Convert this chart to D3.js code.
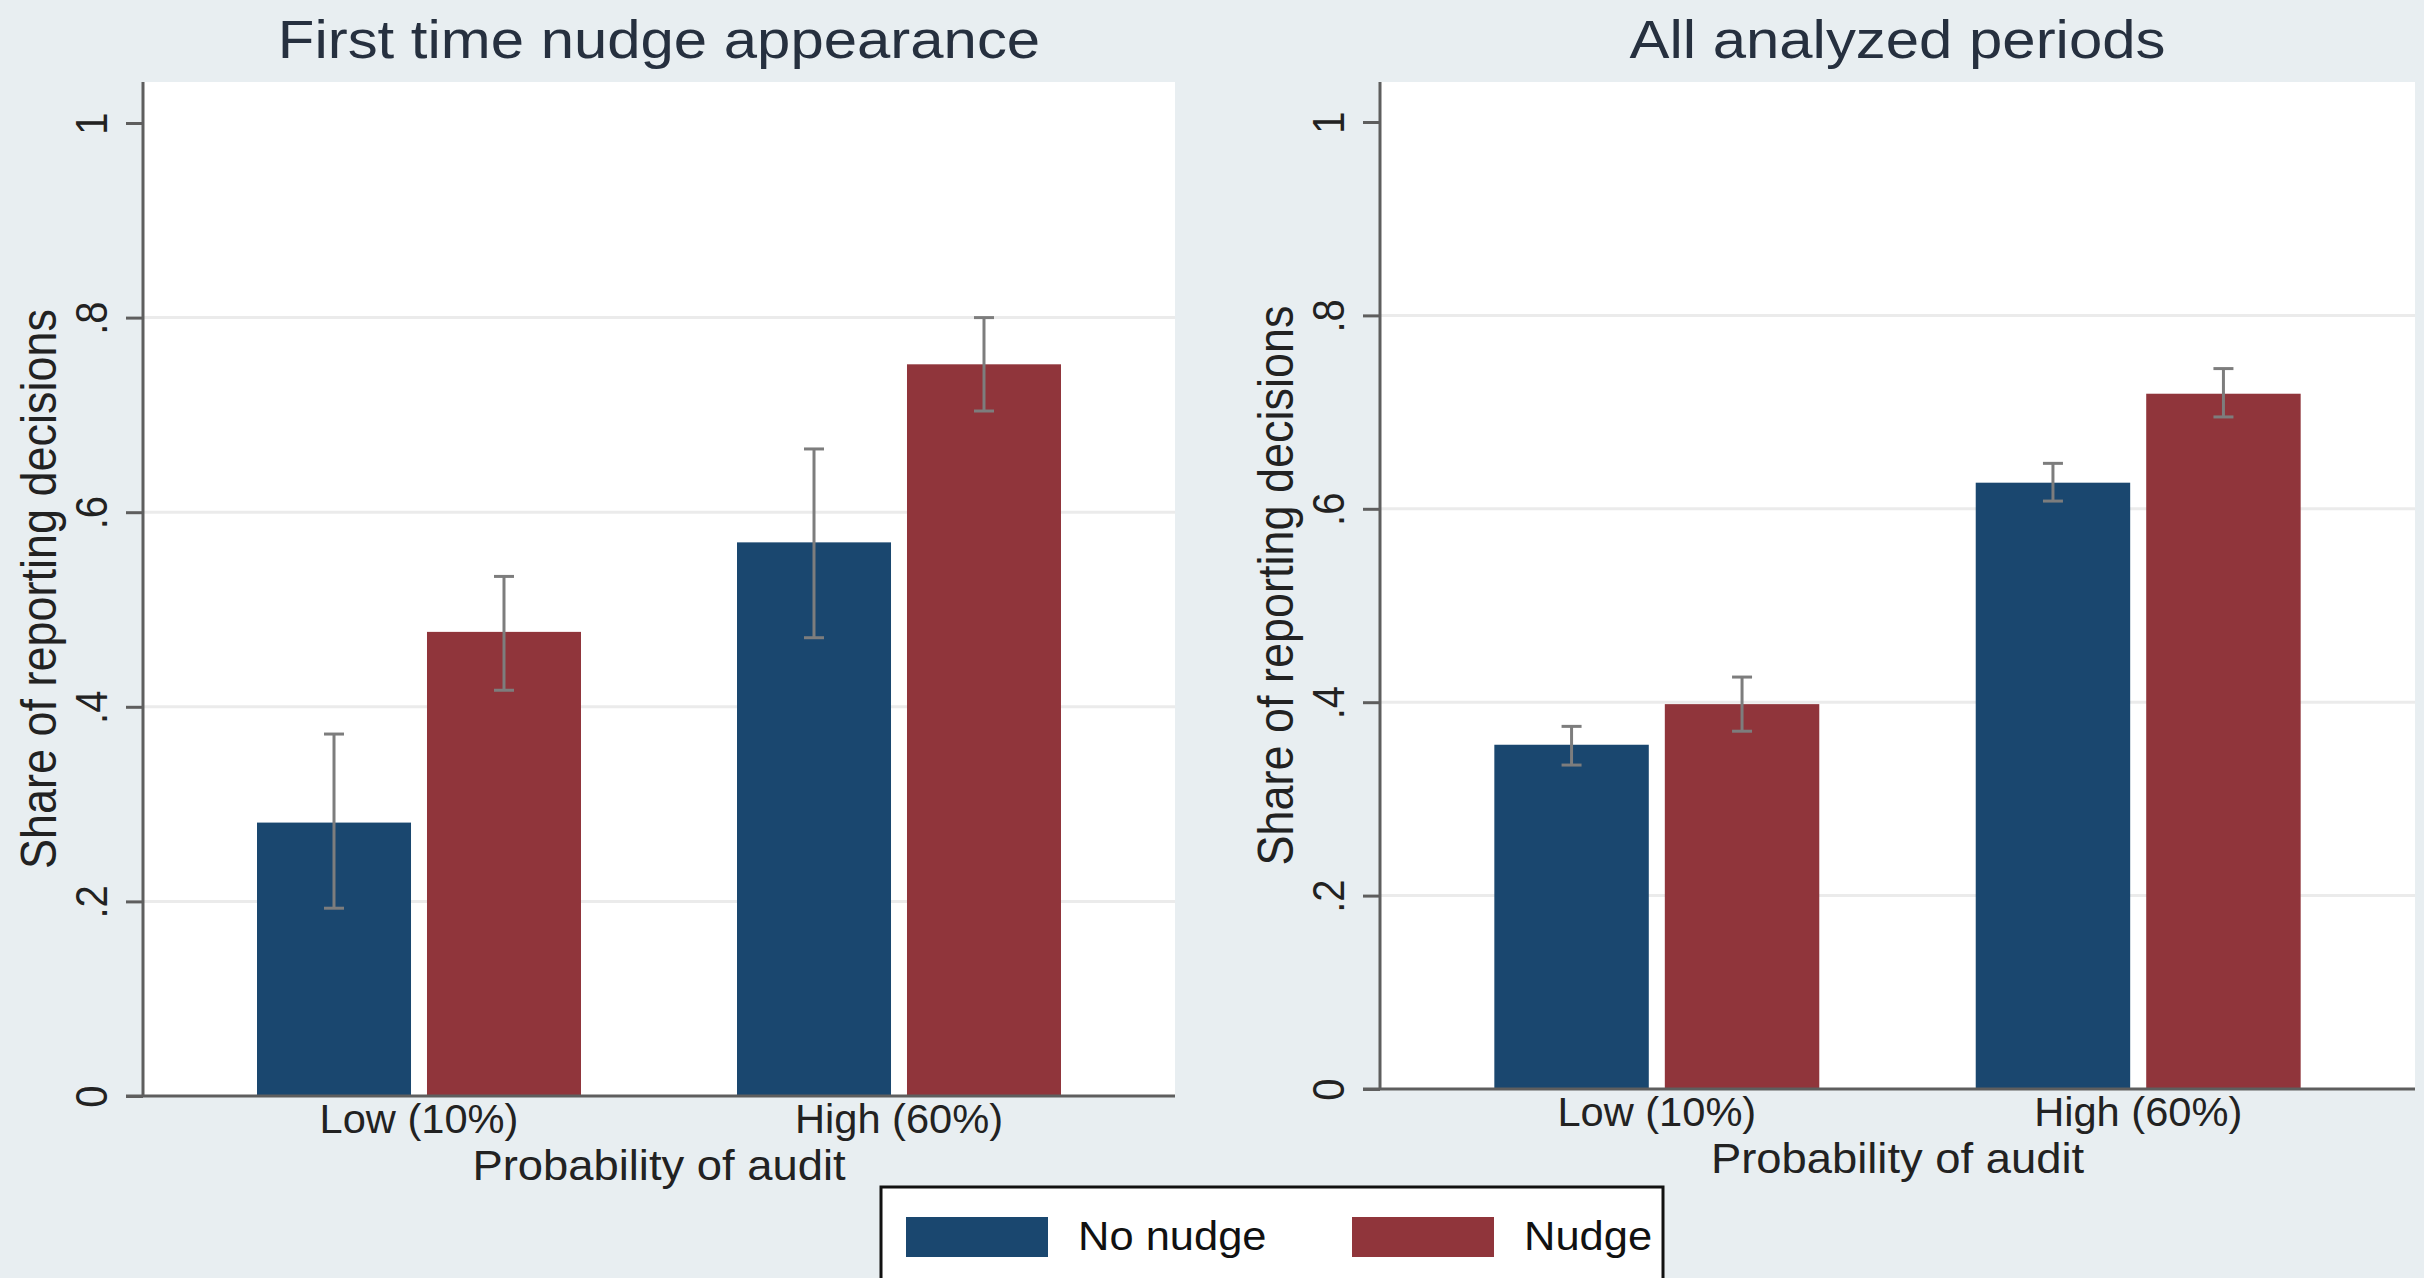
<!DOCTYPE html>
<html>
<head>
<meta charset="utf-8">
<script src="https://cdn.jsdelivr.net/npm/d3@7"></script>
<style>
  html, body { margin: 0; padding: 0; background: #e8eef1; }
  svg { display: block; }
  text { font-family: "Liberation Sans", Arial, Helvetica, sans-serif; }
</style>
</head>
<body>
<svg id="chart" width="2424" height="1278"></svg>
<script>
// ---------------- data ----------------
const categories = ["Low (10%)", "High (60%)"];
const seriesNames = ["No nudge", "Nudge"];
const panelTitles = ["First time nudge appearance", "All analyzed periods"];
const xAxisTitle = "Probability of audit";
const yAxisTitle = "Share of reporting decisions";
const yTicks = [0, 0.2, 0.4, 0.6, 0.8, 1];
const yTickLabels = ["0", ".2", ".4", ".6", ".8", "1"];

// Panel 1: First time nudge appearance
const firstNoNudge   = [0.281, 0.569];
const firstNoNudgeLo = [0.193, 0.471];
const firstNoNudgeHi = [0.372, 0.665];
const firstNudge     = [0.477, 0.752];
const firstNudgeLo   = [0.417, 0.704];
const firstNudgeHi   = [0.534, 0.800];

// Panel 2: All analyzed periods
const allNoNudge   = [0.356, 0.627];
const allNoNudgeLo = [0.335, 0.608];
const allNoNudgeHi = [0.375, 0.647];
const allNudge     = [0.398, 0.719];
const allNudgeLo   = [0.370, 0.695];
const allNudgeHi   = [0.426, 0.745];

// ---------------- style ----------------
const colors = ["#1a476f", "#90353b"];
const bgColor = "#e8eef1";
const axisColor = "#5e5e5e";
const gridColor = "#ebebeb";
const errColor = "#7d7d7d";
const textColor = "#222222";
const titleColor = "#26303f";

const svg = d3.select("#chart");
svg.append("rect").attr("width", 2424).attr("height", 1278).attr("fill", bgColor);

function stretch(sel, k) {
  sel.each(function () {
    const L = this.getComputedTextLength();
    this.setAttribute("textLength", L * k);
    this.setAttribute("lengthAdjust", "spacingAndGlyphs");
  });
}

function buildRows(mean0, lo0, hi0, mean1, lo1, hi1) {
  return categories.map((c, i) => ({
    cat: c,
    vals: [
      { s: seriesNames[0], v: mean0[i], lo: lo0[i], hi: hi0[i] },
      { s: seriesNames[1], v: mean1[i], lo: lo1[i], hi: hi1[i] }
    ]
  }));
}

const panels = [
  { title: panelTitles[0], x0: 143, x1: 1175, top: 82, y0: 1096, y1: 123,
    rows: buildRows(firstNoNudge, firstNoNudgeLo, firstNoNudgeHi, firstNudge, firstNudgeLo, firstNudgeHi) },
  { title: panelTitles[1], x0: 1380, x1: 2415, top: 82, y0: 1089, y1: 122,
    rows: buildRows(allNoNudge, allNoNudgeLo, allNoNudgeHi, allNudge, allNudgeLo, allNudgeHi) }
];

panels.forEach(p => {
  const g = svg.append("g");
  const y = d3.scaleLinear().domain([0, 1]).range([p.y0, p.y1]);
  const xg = d3.scaleBand().domain(categories).range([p.x0, p.x1])
    .paddingInner(0.325).paddingOuter(0.2375);
  const xs = d3.scaleBand().domain(seriesNames).range([0, xg.bandwidth()])
    .paddingInner(0.094).paddingOuter(0);

  // plot region
  g.append("rect").attr("x", p.x0).attr("y", p.top)
    .attr("width", p.x1 - p.x0).attr("height", p.y0 - p.top).attr("fill", "#ffffff");

  // grid lines
  g.selectAll(".grid").data(yTicks.filter(t => t > 0 && t < 1)).join("line")
    .attr("x1", p.x0).attr("x2", p.x1)
    .attr("y1", d => y(d)).attr("y2", d => y(d))
    .attr("stroke", gridColor).attr("stroke-width", 3);

  // bars
  const grp = g.selectAll(".grp").data(p.rows).join("g")
    .attr("transform", d => `translate(${xg(d.cat)},0)`);
  grp.selectAll("rect").data(d => d.vals).join("rect")
    .attr("x", d => xs(d.s)).attr("width", xs.bandwidth())
    .attr("y", d => y(d.v)).attr("height", d => y(0) - y(d.v))
    .attr("fill", (d, i) => colors[i]);

  // error bars
  const eb = grp.selectAll(".eb").data(d => d.vals).join("g")
    .attr("transform", d => `translate(${xs(d.s) + xs.bandwidth() / 2},0)`)
    .attr("stroke", errColor).attr("stroke-width", 3);
  eb.append("line").attr("x1", 0).attr("x2", 0).attr("y1", d => y(d.lo)).attr("y2", d => y(d.hi));
  eb.append("line").attr("x1", -10).attr("x2", 10).attr("y1", d => y(d.lo)).attr("y2", d => y(d.lo));
  eb.append("line").attr("x1", -10).attr("x2", 10).attr("y1", d => y(d.hi)).attr("y2", d => y(d.hi));

  // y axis
  const yAxis = d3.axisLeft(y).tickValues(yTicks)
    .tickFormat((d, i) => yTickLabels[i]).tickSize(17).tickSizeOuter(0);
  const ya = g.append("g").attr("transform", `translate(${p.x0},0)`).call(yAxis);
  ya.select(".domain").remove();
  ya.selectAll(".tick line").attr("stroke", axisColor).attr("stroke-width", 3);
  ya.selectAll(".tick text")
    .attr("x", null).attr("dy", null)
    .attr("text-anchor", "middle")
    .attr("transform", "translate(-36,0) rotate(-90) scale(1,1.12)")
    .attr("fill", textColor).attr("font-size", 40);
  g.append("line").attr("x1", p.x0).attr("x2", p.x0).attr("y1", p.top).attr("y2", p.y0)
    .attr("stroke", axisColor).attr("stroke-width", 3);

  // x axis
  const xAxis = d3.axisBottom(xg).tickSize(0);
  const xa = g.append("g").attr("transform", `translate(0,${p.y0})`).call(xAxis);
  xa.select(".domain").remove();
  xa.selectAll(".tick text").attr("y", 37).attr("dy", null)
    .attr("fill", textColor).attr("font-size", 40);
  stretch(xa.selectAll(".tick text"), 1.04);
  g.append("line").attr("x1", p.x0 - 17).attr("x2", p.x1).attr("y1", p.y0).attr("y2", p.y0)
    .attr("stroke", axisColor).attr("stroke-width", 3);

  // x axis title
  const xt = g.append("text").attr("x", (p.x0 + p.x1) / 2).attr("y", p.y0 + 84)
    .attr("text-anchor", "middle").attr("font-size", 42).attr("fill", textColor)
    .text(xAxisTitle);
  stretch(xt, 1.08);

  // y axis title
  g.append("text")
    .attr("transform", `translate(${p.x0 - 87},${(p.top + p.y0) / 2}) rotate(-90) scale(1,1.12)`)
    .attr("text-anchor", "middle").attr("font-size", 45).attr("fill", textColor)
    .text(yAxisTitle);

  // panel title
  const tt = g.append("text").attr("x", (p.x0 + p.x1) / 2).attr("y", 58)
    .attr("text-anchor", "middle").attr("font-size", 53).attr("fill", titleColor)
    .text(p.title);
  stretch(tt, 1.13);
});

// legend
const lg = svg.append("g");
lg.append("rect").attr("x", 881).attr("y", 1187).attr("width", 782).attr("height", 140)
  .attr("fill", "#ffffff").attr("stroke", "#111111").attr("stroke-width", 3);
const lx = d3.scaleOrdinal().domain(seriesNames).range([906, 1352]);
const li = lg.selectAll(".li").data(seriesNames).join("g");
li.append("rect").attr("x", d => lx(d)).attr("y", 1217).attr("width", 142).attr("height", 40)
  .attr("fill", (d, i) => colors[i]);
const lt = li.append("text").attr("x", d => lx(d) + 172).attr("y", 1250)
  .attr("font-size", 41).attr("fill", "#111111").text(d => d);
stretch(lt, 1.06);
</script>
</body>
</html>
